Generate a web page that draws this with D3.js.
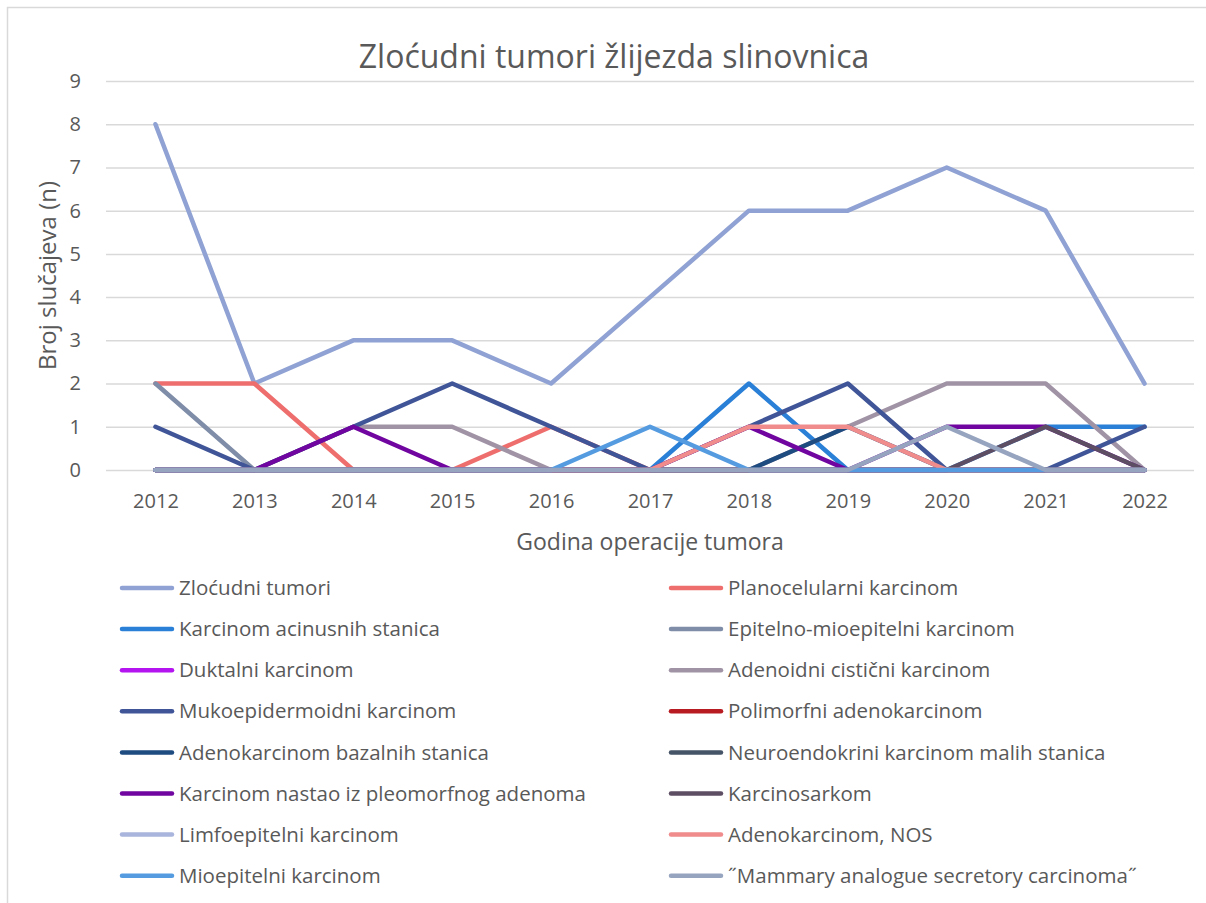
<!DOCTYPE html>
<meta charset="utf-8">
<script src="https://d3js.org/d3.v7.min.js"></script>
<style>
  body { margin: 0; background: #fff; }
  text { font-family: "Open Sans", sans-serif; fill: #595959; }
</style>
<div id="plot_div"></div>
<script>
    // categories
    const years = ["2012", "2013", "2014", "2015", "2016", "2017", "2018", "2019", "2020", "2021", "2022"];
    const yTicks = [0, 1, 2, 3, 4, 5, 6, 7, 8, 9];

    // series, in drawing order (later ones sit on top)
    const seriesNames = [
        "Zloćudni tumori",
        "Planocelularni karcinom",
        "Karcinom acinusnih stanica",
        "Epitelno-mioepitelni karcinom",
        "Duktalni karcinom",
        "Adenoidni cistični karcinom",
        "Mukoepidermoidni karcinom",
        "Polimorfni adenokarcinom",
        "Adenokarcinom bazalnih stanica",
        "Neuroendokrini karcinom malih stanica",
        "Karcinom nastao iz pleomorfnog adenoma",
        "Karcinosarkom",
        "Limfoepitelni karcinom",
        "Adenokarcinom, NOS",
        "Mioepitelni karcinom",
        "˝Mammary analogue secretory carcinoma˝"
    ];
    const zlocudni = [8, 2, 3, 3, 2, 4, 6, 6, 7, 6, 2];
    const planocelularni = [2, 2, 0, 0, 1, 0, 0, 0, 0, 0, 0];
    const acinusnih = [0, 0, 0, 0, 0, 0, 2, 0, 0, 1, 1];
    const epitelnoMioepitelni = [2, 0, 0, 0, 0, 0, 0, 0, 0, 0, 0];
    const duktalni = [0, 0, 0, 0, 0, 0, 0, 0, 0, 0, 0];
    const adenoidniCisticni = [0, 0, 1, 1, 0, 0, 0, 1, 2, 2, 0];
    const mukoepidermoidni = [1, 0, 1, 2, 1, 0, 1, 2, 0, 0, 1];
    const polimorfni = [0, 0, 0, 0, 0, 0, 0, 0, 0, 0, 0];
    const bazalnih = [0, 0, 0, 0, 0, 0, 0, 1, 0, 0, 0];
    const neuroendokrini = [0, 0, 0, 0, 0, 0, 0, 0, 0, 0, 0];
    const pleomorfnog = [0, 0, 1, 0, 0, 0, 1, 0, 1, 1, 0];
    const karcinosarkom = [0, 0, 0, 0, 0, 0, 0, 0, 0, 1, 0];
    const limfoepitelni = [0, 0, 0, 0, 0, 0, 0, 0, 0, 0, 0];
    const adenokarcinomNOS = [0, 0, 0, 0, 0, 0, 1, 1, 0, 0, 0];
    const mioepitelni = [0, 0, 0, 0, 0, 1, 0, 0, 0, 0, 0];
    const mammary = [0, 0, 0, 0, 0, 0, 0, 0, 1, 0, 0];

    const seriesValues = [zlocudni, planocelularni, acinusnih, epitelnoMioepitelni, duktalni,
        adenoidniCisticni, mukoepidermoidni, polimorfni, bazalnih, neuroendokrini, pleomorfnog,
        karcinosarkom, limfoepitelni, adenokarcinomNOS, mioepitelni, mammary];
    const seriesColors = ["#8fa2d3", "#ee6e6e", "#2a7fd6", "#7f8da8", "#b414ef", "#a093a5",
        "#3f5597", "#b81c22", "#1e4b80", "#465468", "#70059f", "#5e4e64",
        "#a9b5dc", "#f08c8c", "#559be0", "#97a4bf"];

    var margin = { left: 106, right: 12, top: 81, bottom: 433 },
        width = 1206,
        height = 903;

    var svg = d3.select("#plot_div")
        .append("svg")
        .attr("width", width)
        .attr("height", height);

    // chart frame
    svg.append("rect")
        .attr("x", 7.5).attr("y", 7.5)
        .attr("width", width + 20).attr("height", height + 20)
        .attr("fill", "none").attr("stroke", "#d9d9d9").attr("stroke-width", 1.5);

    var x = d3.scalePoint()
        .domain(years)
        .range([margin.left, width - margin.right])
        .padding(0.5);

    var y = d3.scaleLinear()
        .domain([0, 9])
        .range([height - margin.bottom, margin.top]);

    // gridlines + y labels
    svg.append("g")
        .attr("transform", "translate(" + margin.left + ",0)")
        .call(d3.axisLeft(y).tickValues(yTicks).tickSize(-(width - margin.left - margin.right)).tickPadding(25))
        .call(g => g.select(".domain").remove())
        .call(g => g.selectAll(".tick line").attr("stroke", "#d9d9d9").attr("stroke-width", 1.5))
        .call(g => g.selectAll(".tick text").attr("font-size", 20).attr("fill", "#595959")
            .style("font-family", "'Open Sans', sans-serif"));

    // x labels
    svg.append("g")
        .attr("transform", "translate(0," + (height - margin.bottom) + ")")
        .call(d3.axisBottom(x).tickSize(0).tickPadding(24))
        .call(g => g.select(".domain").remove())
        .call(g => g.selectAll(".tick text").attr("font-size", 20).attr("fill", "#595959")
            .style("font-family", "'Open Sans', sans-serif"));

    // lines
    var line = d3.line()
        .x((d, i) => x(years[i]))
        .y(d => y(d));

    seriesValues.forEach(function (vals, k) {
        svg.append("path")
            .attr("d", line(vals))
            .attr("fill", "none")
            .attr("stroke", seriesColors[k])
            .attr("stroke-width", 4.5)
            .attr("stroke-linecap", "round")
            .attr("stroke-linejoin", "round");
    });

    // title and axis titles
    svg.append("text")
        .attr("x", 614).attr("y", 68)
        .attr("text-anchor", "middle")
        .attr("font-size", 32)
        .text("Zloćudni tumori žlijezda slinovnica");

    svg.append("text")
        .attr("transform", "translate(56," + y(4.5) + ") rotate(-90)")
        .attr("text-anchor", "middle")
        .attr("font-size", 24)
        .text("Broj slučajeva (n)");

    svg.append("text")
        .attr("x", (margin.left + width - margin.right) / 2).attr("y", 550)
        .attr("text-anchor", "middle")
        .attr("font-size", 23)
        .text("Godina operacije tumora");

    // legend: two columns, filled row by row
    var legend = svg.append("g");
    seriesNames.forEach(function (name, k) {
        var col = k % 2, row = Math.floor(k / 2);
        var lx = col === 0 ? 122 : 671, ly = 588 + row * 41.1;
        var item = legend.append("g").attr("transform", "translate(" + lx + "," + ly + ")");
        item.append("line")
            .attr("x1", 0).attr("x2", 50).attr("y1", 0).attr("y2", 0)
            .attr("stroke", seriesColors[k]).attr("stroke-width", 4.5)
            .attr("stroke-linecap", "round");
        item.append("text")
            .attr("x", 57).attr("y", 0).attr("dy", "0.35em")
            .attr("font-size", 20.5)
            .text(name);
    });
</script>
